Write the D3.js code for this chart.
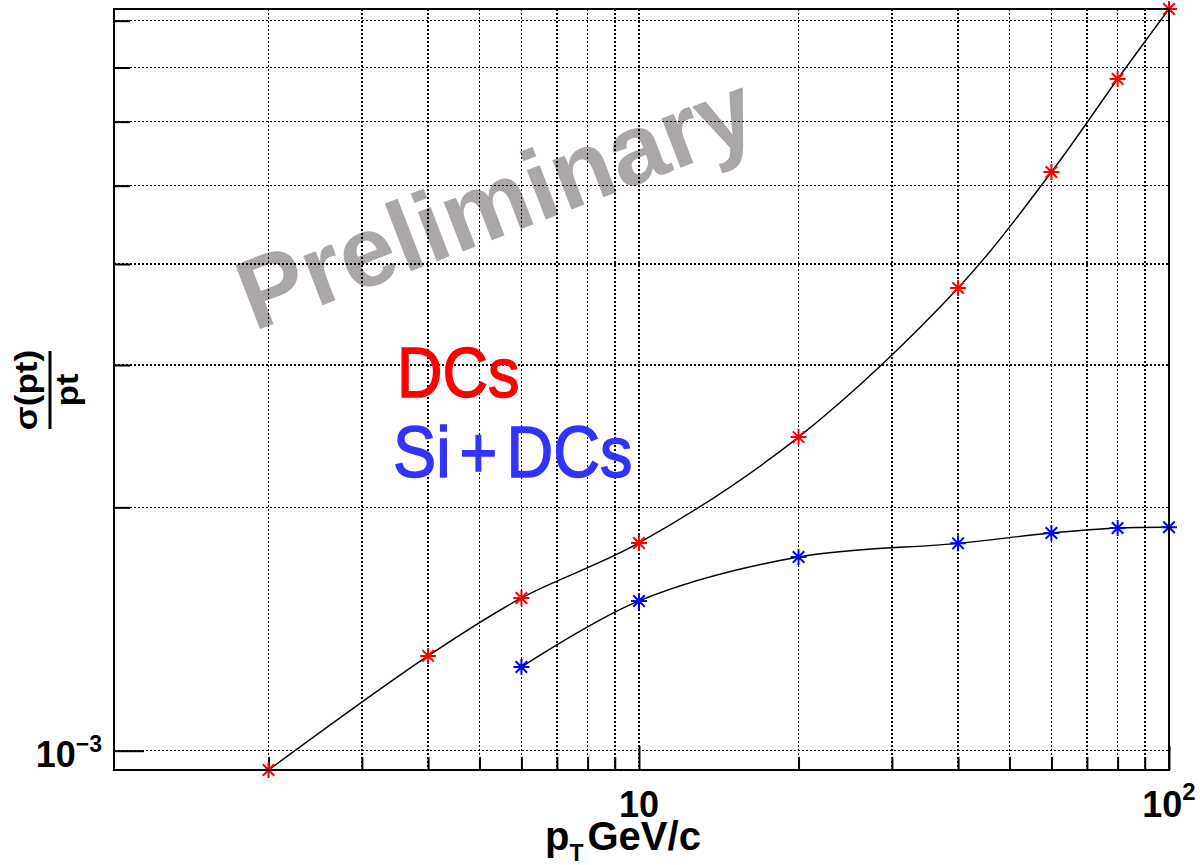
<!DOCTYPE html>
<html><head><meta charset="utf-8">
<script src="https://cdn.jsdelivr.net/npm/d3@7/dist/d3.min.js"></script>
<style>body{margin:0;background:#fff}svg{display:block}</style>
</head><body>
<svg id="chart" width="1200" height="865"></svg>
<script>
// ---- data ----
const ptDCs = [2, 4, 6, 10, 20, 40, 60, 80, 100];
const resDCs = [0.9465e-3, 1.31e-3, 1.545e-3, 1.807e-3, 2.443e-3, 3.736e-3, 5.198e-3, 6.775e-3, 8.27e-3];
const ptSiDCs = [6, 10, 20, 40, 60, 80, 100];
const resSiDCs = [1.269e-3, 1.532e-3, 1.736e-3, 1.805e-3, 1.859e-3, 1.886e-3, 1.89e-3];
const xTicks = [2, 3, 4, 5, 6, 7, 8, 9, 10, 20, 30, 40, 50, 60, 70, 80, 90, 100];
const xMajorTicks = [10, 100];
const xTickLabels = [{v: 10, base: "10", exp: ""}, {v: 100, base: "10", exp: "2"}];
const yTicks = [1e-3, 2e-3, 3e-3, 4e-3, 5e-3, 6e-3, 7e-3, 8e-3];
const yMajorTicks = [1e-3];
const yTickLabels = [{v: 1e-3, base: "10", exp: "\u22123"}];
const seriesNames = ["DCs", "Si+DCs"];

const FONT = "'Liberation Sans', Arial, Helvetica, sans-serif";
const SQ = 0.9;

const svg = d3.select("#chart");
const L = 114, R = 1169, T = 9, B = 770;
const x = d3.scaleLog().domain([1.022, 100]).range([L, R]);
const y = d3.scaleLog().domain([0.9465e-3, 8.27e-3]).range([B, T]);

// watermark
svg.append("text")
  .attr("transform", "translate(508,234) rotate(-21)")
  .attr("text-anchor", "middle")
  .attr("font-family", FONT).attr("font-weight", "bold").attr("font-size", 100)
  .attr("fill", "#aba7a6")
  .text("Preliminary");

// grid
const grid = svg.append("g").attr("stroke", "#000").attr("stroke-width", 1.6)
  .attr("stroke-dasharray", "1.6,2.4").attr("shape-rendering", "crispEdges");
grid.selectAll("line.v").data(xTicks).join("line")
  .attr("x1", d => x(d)).attr("x2", d => x(d)).attr("y1", T).attr("y2", B);
grid.selectAll("line.h").data(yTicks).join("line")
  .attr("y1", d => y(d)).attr("y2", d => y(d)).attr("x1", L).attr("x2", R);

// axes ticks (inward)
const xMinorAxis = d3.axisBottom(x).tickValues(xTicks.filter(v => !xMajorTicks.includes(v)))
  .tickSizeInner(-13).tickSizeOuter(0).tickFormat("");
const xMajorAxis = d3.axisBottom(x).tickValues(xMajorTicks)
  .tickSizeInner(-24).tickSizeOuter(0).tickFormat("");
const yMinorAxis = d3.axisLeft(y).tickValues(yTicks.filter(v => !yMajorTicks.includes(v)))
  .tickSizeInner(-16).tickSizeOuter(0).tickFormat("");
const yMajorAxis = d3.axisLeft(y).tickValues(yMajorTicks)
  .tickSizeInner(-30).tickSizeOuter(0).tickFormat("");
[[xMinorAxis, `translate(0,${B})`], [xMajorAxis, `translate(0,${B})`],
 [yMinorAxis, `translate(${L},0)`], [yMajorAxis, `translate(${L},0)`]].forEach(([ax, tr]) => {
  const g = svg.append("g").attr("transform", tr).call(ax);
  g.select(".domain").remove();
  g.selectAll(".tick line").attr("stroke", "#000").attr("stroke-width", 2);
});

// curves
const line = d3.line().x(d => x(d[0])).y(d => y(d[1])).curve(d3.curveCatmullRom.alpha(0.5));
const series = [
  {name: seriesNames[0], pts: d3.zip(ptDCs, resDCs), color: "#ff0000", text: "#ff0000"},
  {name: seriesNames[1], pts: d3.zip(ptSiDCs, resSiDCs), color: "#0000ff", text: "#3333ff"}
];
series.forEach(s => {
  svg.append("path").attr("d", line(s.pts)).attr("fill", "none")
    .attr("stroke", "#000").attr("stroke-width", 1.4);
});
// asterisk markers
const star = r => `M${-r},0H${r}M0,${-r}V${r}M${-r*0.72},${-r*0.72}L${r*0.72},${r*0.72}M${-r*0.72},${r*0.72}L${r*0.72},${-r*0.72}`;
series.forEach(s => {
  svg.append("g").selectAll("path").data(s.pts).join("path")
    .attr("transform", d => `translate(${x(d[0])},${y(d[1])})`)
    .attr("d", star(8)).attr("stroke", s.color).attr("stroke-width", 2).attr("fill", "none");
});

// frame
svg.append("rect").attr("x", L).attr("y", T).attr("width", R - L).attr("height", B - T)
  .attr("fill", "none").attr("stroke", "#000").attr("stroke-width", 2);

// tick labels
xTickLabels.forEach(t => {
  const tx = svg.append("text")
    .attr("transform", `translate(${x(t.v)},817)`)
    .attr("text-anchor", "middle").attr("font-family", FONT).attr("font-weight", "bold")
    .attr("font-size", 36).attr("fill", "#000");
  tx.append("tspan").text(t.base);
  if (t.exp) tx.append("tspan").attr("dy", -17).attr("font-size", 24).text(t.exp);
});
yTickLabels.forEach(t => {
  const tx = svg.append("text")
    .attr("transform", `translate(102,${y(t.v) + 16})`)
    .attr("text-anchor", "end").attr("font-family", FONT).attr("font-weight", "bold")
    .attr("font-size", 36).attr("fill", "#000");
  tx.append("tspan").text(t.base);
  tx.append("tspan").attr("dy", -15).attr("font-size", 23).text(t.exp);
});

// x title
const xt = svg.append("text").attr("transform", `translate(545,850)`)
  .attr("font-family", FONT).attr("font-weight", "bold").attr("font-size", 40).attr("fill", "#000");
xt.append("tspan").text("p");
xt.append("tspan").attr("dy", 11).attr("font-size", 23).text("T");
xt.append("tspan").attr("dy", -11).attr("dx", 4).text("GeV/c");

// y title (fraction)
const yc = 390;
svg.append("text").attr("transform", `translate(37,${yc}) scale(${SQ},1) rotate(-90)`)
  .attr("text-anchor", "middle").attr("font-family", FONT).attr("font-weight", "bold")
  .attr("font-size", 35).attr("fill", "#000").text("σ(pt)");
svg.append("text").attr("transform", `translate(78,${yc}) scale(${SQ},1) rotate(-90)`)
  .attr("text-anchor", "middle").attr("font-family", FONT).attr("font-weight", "bold")
  .attr("font-size", 35).attr("fill", "#000").text("pt");
svg.append("line").attr("x1", 50).attr("x2", 50).attr("y1", 351).attr("y2", 429)
  .attr("stroke", "#000").attr("stroke-width", 3);

// series labels
svg.append("text").attr("transform", `translate(397,397) scale(${SQ},1)`)
  .attr("font-family", FONT).attr("font-size", 70).attr("fill", series[0].text)
  .attr("stroke", series[0].text).attr("stroke-width", 1.5)
  .text(series[0].name);
const sl = svg.append("text").attr("transform", `translate(393,477) scale(${SQ},1)`)
  .attr("font-family", FONT).attr("font-size", 72).attr("fill", series[1].text)
  .attr("stroke", series[1].text).attr("stroke-width", 1.5);
sl.append("tspan").text("Si");
sl.append("tspan").attr("dx", 10).text("+");
sl.append("tspan").attr("dx", 10).text("DCs");
</script>
</body></html>
